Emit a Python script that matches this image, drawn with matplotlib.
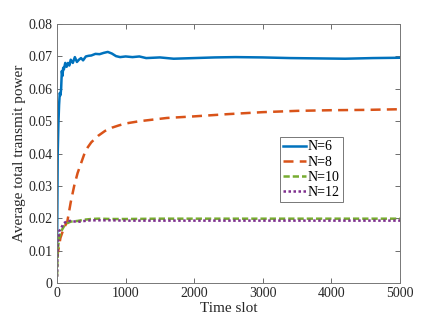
import numpy as np
import matplotlib.pyplot as plt

plt.rcParams['font.family'] = ['Liberation Serif', 'DejaVu Serif']
plt.rcParams['mathtext.fontset'] = 'stix'

# data
t6 = [1, 10, 20, 30, 40, 50, 60, 70, 80, 90, 100, 120, 140, 160, 180, 200, 230, 260, 290,
      320, 350, 380, 420, 460, 500, 560, 620, 680, 740, 800, 860, 920, 1000, 1100, 1200,
      1300, 1500, 1700, 2000, 2300, 2600, 3000, 3400, 3800, 4200, 4600, 5000]
p6 = [0.010, 0.040, 0.049, 0.055, 0.0587, 0.058, 0.060, 0.0655, 0.064, 0.0665, 0.066, 0.068,
      0.0668, 0.068, 0.0672, 0.069, 0.068, 0.0698, 0.0683, 0.069, 0.0695, 0.0688, 0.070, 0.0702,
      0.0703, 0.0708, 0.0707, 0.0711, 0.0714, 0.0709, 0.0701, 0.0698, 0.0700, 0.0698, 0.0700,
      0.0695, 0.0697, 0.0693, 0.0695, 0.0697, 0.0698, 0.0697, 0.0695, 0.0694, 0.0693, 0.0695, 0.0696]

t8 = [1, 50, 100, 150, 200, 250, 300, 350, 400, 450, 500, 600, 700, 800, 900, 1000, 1200,
      1400, 1600, 2000, 2500, 3000, 3500, 4000, 4500, 5000]
p8 = [0.008, 0.014, 0.017, 0.019, 0.025, 0.030, 0.034, 0.037, 0.040, 0.042, 0.0435, 0.0455,
      0.047, 0.048, 0.0487, 0.0493, 0.0500, 0.0505, 0.0510, 0.0515, 0.0522, 0.0528, 0.0532,
      0.0534, 0.0535, 0.0537]

t10 = [1, 10, 30, 60, 100, 150, 200, 300, 400, 500, 600, 800, 1000, 1500, 2000, 3000, 4000, 5000]
p10 = [0.002, 0.010, 0.014, 0.016, 0.0175, 0.0185, 0.0190, 0.0192, 0.0196, 0.0198, 0.0199,
       0.0198, 0.0198, 0.0199, 0.0199, 0.0199, 0.0199, 0.0199]

t12 = [1, 10, 30, 60, 100, 150, 200, 300, 400, 500, 600, 800, 1000, 1500, 2000, 3000, 4000, 5000]
p12 = [0.002, 0.012, 0.016, 0.017, 0.0185, 0.0192, 0.0192, 0.0189, 0.0192, 0.0194, 0.0194,
       0.0194, 0.0193, 0.0193, 0.0193, 0.0193, 0.0193, 0.0193]

labels = ['N=6', 'N=8', 'N=10', 'N=12']

fig = plt.figure(figsize=(4.42, 3.21), dpi=100)
ax = fig.add_axes([0.129, 0.118, 0.776, 0.807])

ax.plot(t6, p6, color='#0072BD', lw=1.8, label=labels[0])
ax.plot(t8, p8, color='#D95319', lw=1.8, dashes=(4, 2.5), label=labels[1])
ax.plot(t10, p10, color='#77AC30', lw=1.8, dashes=(2.5, 1.2), label=labels[2])
ax.plot(t12, p12, color='#7E2F8E', lw=1.8, dashes=(1, 1), label=labels[3])

ax.set_xlim(0, 5000)
ax.set_ylim(0, 0.08)
ax.set_xticks(np.arange(0, 5001, 1000))
ax.set_yticks(np.arange(0, 0.081, 0.01))
ax.set_yticklabels(['0'] + ['%.2f' % v for v in np.arange(0.01, 0.081, 0.01)])
ax.tick_params(direction='in', top=True, right=True, length=3.5, width=0.6,
               color='#555555', labelsize=10, labelcolor='#262626', pad=3)
for s in ax.spines.values():
    s.set_color('#777777')
    s.set_linewidth(0.7)

ax.set_xlabel('Time slot', fontsize=11, color='#262626', labelpad=1)
ax.set_ylabel('Average total transmit power', fontsize=11, color='#262626', labelpad=2)

leg = ax.legend(loc='upper left', bbox_to_anchor=(0.65, 0.564), borderaxespad=0,
                fontsize=10, handlelength=1.6, handletextpad=0.1, labelspacing=0.15,
                borderpad=0.25, frameon=True, fancybox=False)
leg.get_frame().set_edgecolor('#555555')
leg.get_frame().set_linewidth(0.7)

fig.savefig('out.png', dpi=100)
